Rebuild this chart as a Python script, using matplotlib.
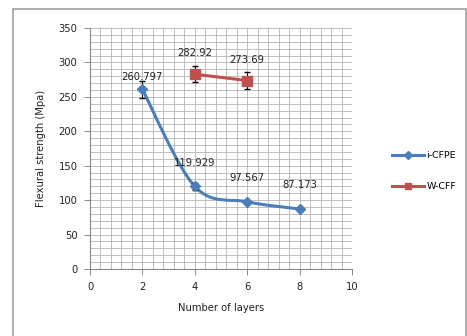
import matplotlib
matplotlib.use("Agg")
import matplotlib.pyplot as plt
from matplotlib.path import Path
from matplotlib.patches import PathPatch, Rectangle
from matplotlib.lines import Line2D
from matplotlib.ticker import MultipleLocator

# data
layers_icfpe = [2, 4, 6, 8]
strength_icfpe = [260.797, 119.929, 97.567, 87.173]
err_icfpe = [12, 5, 3, 3]
labels_icfpe = ["260.797", "119.929", "97.567", "87.173"]

layers_wcff = [4, 6]
strength_wcff = [282.92, 273.69]
err_wcff = [12, 13]
labels_wcff = ["282.92", "273.69"]

BLUE = "#4a7ebb"
RED = "#c0504d"
GRID = "#b4b4b4"
INK = "#222222"
FS = 7.2


def smooth_path(xs, ys):
    # Excel-style smoothed line: Catmull-Rom turned into cubic Beziers
    pts = list(zip(xs, ys))
    n = len(pts)
    verts = [pts[0]]
    codes = [Path.MOVETO]
    for i in range(n - 1):
        p0 = pts[i - 1] if i > 0 else pts[i]
        p1 = pts[i]
        p2 = pts[i + 1]
        p3 = pts[i + 2] if i + 2 < n else pts[i + 1]
        c1 = (p1[0] + (p2[0] - p0[0]) / 6, p1[1] + (p2[1] - p0[1]) / 6)
        c2 = (p2[0] - (p3[0] - p1[0]) / 6, p2[1] - (p3[1] - p1[1]) / 6)
        verts += [c1, c2, p2]
        codes += [Path.CURVE4] * 3
    return Path(verts, codes)


fig = plt.figure(figsize=(4.67, 3.36), dpi=100)
fig.patch.set_facecolor("white")
fig.patches.append(Rectangle((12.5 / 467, -0.05), 453.5 / 467, 1 - 9 / 336 + 0.05,
                             transform=fig.transFigure, fill=False,
                             edgecolor="#a0a0a0", linewidth=1.2))

ax = fig.add_axes([90 / 467, 1 - 269 / 336, 262 / 467, 241 / 336])
ax.set_xlim(0, 10)
ax.set_ylim(0, 350)
ax.xaxis.set_major_locator(MultipleLocator(2))
ax.xaxis.set_minor_locator(MultipleLocator(0.4))
ax.yaxis.set_major_locator(MultipleLocator(50))
ax.yaxis.set_minor_locator(MultipleLocator(10))
ax.grid(True, which="both", color=GRID, linewidth=0.6)
ax.set_axisbelow(True)
for s in ("top", "right"):
    ax.spines[s].set_visible(False)
for s in ("left", "bottom"):
    ax.spines[s].set_color("#888888")
    ax.spines[s].set_linewidth(0.8)
ax.tick_params(which="major", direction="out", length=4, width=0.7,
               color="#888888", labelsize=FS, labelcolor=INK, pad=5)
ax.tick_params(which="minor", length=0)

# i-CFPE: smoothed line with diamond markers
ax.add_patch(PathPatch(smooth_path(layers_icfpe, strength_icfpe), fill=False,
                       edgecolor=BLUE, linewidth=2.2, zorder=3))
ax.errorbar(layers_icfpe, strength_icfpe, yerr=err_icfpe, fmt="D", color=BLUE,
            markersize=5, ecolor="black", elinewidth=0.8, capsize=2.5, zorder=4)

# W-CFF: straight line with square markers
ax.plot(layers_wcff, strength_wcff, color=RED, linewidth=2.2, zorder=3)
ax.errorbar(layers_wcff, strength_wcff, yerr=err_wcff, fmt="s", color=RED,
            markersize=7, ecolor="black", elinewidth=0.8, capsize=2.5, zorder=4)

label_y_icfpe = [279, 154, 132, 122]
label_y_wcff = [313, 303]
for x, y, t in zip(layers_icfpe, label_y_icfpe, labels_icfpe):
    ax.text(x, y, t, ha="center", va="center", fontsize=FS, color=INK, zorder=5)
for x, y, t in zip(layers_wcff, label_y_wcff, labels_wcff):
    ax.text(x, y, t, ha="center", va="center", fontsize=FS, color=INK, zorder=5)

ax.set_xlabel("Number of layers", fontsize=FS, color=INK, labelpad=8)
ax.set_ylabel("Flexural strength (Mpa)", fontsize=FS, color=INK, labelpad=9)

handles = [Line2D([], [], color=BLUE, linewidth=2.2, marker="D", markersize=4),
           Line2D([], [], color=RED, linewidth=2.2, marker="s", markersize=5)]
fig.legend(handles, ["i-CFPE", "W-CFF"], loc="center left",
           bbox_to_anchor=(383 / 467, 1 - 171 / 336), frameon=False,
           fontsize=FS - 0.4, labelspacing=2.3, handlelength=3.4, handletextpad=0.3)

fig.savefig("out.png", dpi=100, facecolor="white")
